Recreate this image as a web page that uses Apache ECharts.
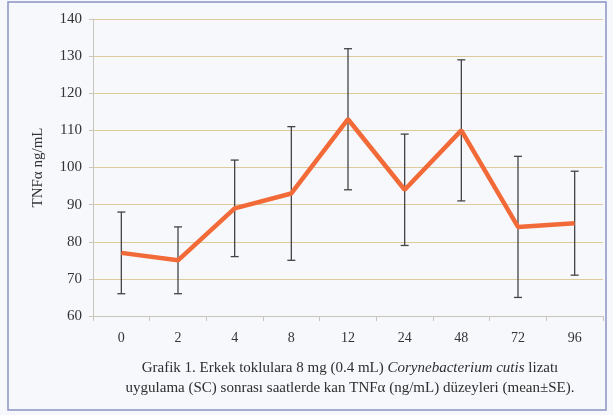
<!DOCTYPE html>
<html><head><meta charset="utf-8">
<script src="https://cdn.jsdelivr.net/npm/echarts@6/dist/echarts.min.js"></script>
<style>html,body{margin:0;padding:0;background:#f6f8fc;}#c{width:613px;height:415px;}</style>
</head><body><div id="c"></div>
<script>
const hours = ['0','2','4','8','12','24','48','72','96'];
const meanVals = [77, 75, 89, 93, 113, 94, 110, 84, 85];
const lowerVals = [66, 66, 76, 75, 94, 79, 91, 65, 71];
const upperVals = [88, 84, 102, 111, 132, 109, 129, 103, 99];
const yTicks = [60, 70, 80, 90, 100, 110, 120, 130, 140];

const serif = '"Liberation Serif", "DejaVu Serif", serif';
const chart = echarts.init(document.getElementById('c'));
chart.setOption({
  backgroundColor: '#f6f8fc',
  animation: false,
  grid: {left: 93, right: 10, top: 19, bottom: 99},
  title: {
    left: 345, top: 353, textAlign: 'center',
    text: '{n|Grafik 1. Erkek toklulara 8 mg (0.4 mL) }{i|Corynebacterium cutis}{n| lizatı}\n{n|uygulama (SC) sonrası saatlerde kan TNFα (ng/mL) düzeyleri (mean±SE).}',
    textStyle: {
      lineHeight: 20, fontWeight: 'normal',
      rich: {
        n: {fontFamily: serif, fontSize: 15, fontWeight: 'normal', color: '#2e2e2e', lineHeight: 20},
        i: {fontFamily: serif, fontSize: 15, fontWeight: 'normal', color: '#2e2e2e', fontStyle: 'italic', lineHeight: 20}
      }
    }
  },
  graphic: [{
    type: 'rect', shape: {x: 8, y: 2, width: 598, height: 408},
    style: {fill: 'none', stroke: '#8a92c4', lineWidth: 1.5}, z: -1
  }],
  xAxis: {
    type: 'category', data: hours, boundaryGap: true,
    axisLine: {lineStyle: {color: '#c9c6bd', width: 1}},
    axisTick: {show: true, alignWithLabel: false, length: 5, lineStyle: {color: '#c9c6bd'}},
    axisLabel: {fontFamily: serif, fontSize: 14, color: '#333', margin: 15}
  },
  yAxis: {
    type: 'value', min: yTicks[0], max: yTicks[yTicks.length - 1], interval: 10,
    name: 'TNFα ng/mL', nameLocation: 'middle', nameGap: 47,
    nameTextStyle: {fontFamily: serif, fontSize: 15, color: '#333'},
    axisLine: {show: true, lineStyle: {color: '#c9c6bd'}},
    axisTick: {show: true, length: 4, lineStyle: {color: '#c9c6bd'}},
    axisLabel: {fontFamily: serif, fontSize: 15, color: '#333', margin: 11},
    splitLine: {lineStyle: {color: '#dccb9c', width: 1}}
  },
  series: [
    {
      type: 'custom', z: 2,
      data: hours.map((h, i) => [i, lowerVals[i], upperVals[i]]),
      renderItem: function (params, api) {
        const lo = api.coord([api.value(0), api.value(1)]);
        const hi = api.coord([api.value(0), api.value(2)]);
        const cw = 4;
        const st = {stroke: '#444', lineWidth: 1.3};
        return {type: 'group', children: [
          {type: 'line', shape: {x1: lo[0], y1: lo[1], x2: hi[0], y2: hi[1]}, style: st},
          {type: 'line', shape: {x1: lo[0]-cw, y1: lo[1], x2: lo[0]+cw, y2: lo[1]}, style: st},
          {type: 'line', shape: {x1: hi[0]-cw, y1: hi[1], x2: hi[0]+cw, y2: hi[1]}, style: st}
        ]};
      }
    },
    {
      type: 'line', z: 3, data: meanVals, symbol: 'none',
      lineStyle: {color: '#f26a38', width: 4.5}
    }
  ]
});
</script></body></html>
